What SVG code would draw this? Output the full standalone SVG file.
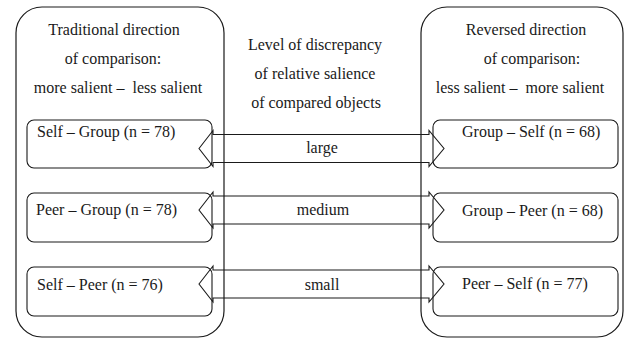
<svg xmlns="http://www.w3.org/2000/svg" width="627" height="340" viewBox="0 0 627 340" font-family="'Liberation Serif', 'Times New Roman', Tinos, 'DejaVu Serif', serif">
  <defs>
    <style>
      .frame { fill: none; stroke: #1a1a1a; stroke-width: 1.2; }
      .node { fill: none; stroke: #1a1a1a; stroke-width: 1.1; }
      .link { fill: none; stroke: #1a1a1a; stroke-width: 1.1; stroke-linejoin: miter; }
      text { font-family: 'Liberation Serif', 'Times New Roman', Tinos, 'DejaVu Serif', serif; font-size: 16px; fill: #1a1a1a; }
      .mid { text-anchor: middle; }
    </style>
  </defs>
  <rect width="627" height="340" fill="#ffffff"/>

  <!-- Left column: traditional direction -->
  <g id="traditional">
    <rect class="frame" x="16" y="7" width="208" height="330" rx="26" ry="26"/>
    <text class="mid" x="114" y="35">Traditional direction</text>
    <text class="mid" x="113" y="64">of comparison:</text>
    <text class="mid" x="118" y="93" xml:space="preserve">more salient –  less salient</text>
  </g>

  <!-- Right column: reversed direction -->
  <g id="reversed">
    <rect class="frame" x="421" y="7" width="202" height="330" rx="26" ry="26"/>
    <text class="mid" x="526" y="35">Reversed direction</text>
    <text class="mid" x="532" y="64">of comparison:</text>
    <text class="mid" x="520" y="93" xml:space="preserve">less salient –  more salient</text>
  </g>

  <!-- Middle heading -->
  <g id="discrepancy">
    <text class="mid" x="315" y="50">Level of discrepancy</text>
    <text class="mid" x="315" y="79">of relative salience</text>
    <text class="mid" x="316" y="108">of compared objects</text>
  </g>

  <!-- Left pairs -->
  <g id="self-group">
    <rect class="node" x="27" y="120" width="185" height="48" rx="7" ry="7"/>
    <text x="37" y="137">Self – Group (n = 78)</text>
  </g>
  <g id="peer-group">
    <rect class="node" x="27" y="193" width="185" height="49" rx="7" ry="7"/>
    <text x="36" y="215">Peer – Group (n = 78)</text>
  </g>
  <g id="self-peer">
    <rect class="node" x="27" y="267" width="185" height="49" rx="7" ry="7"/>
    <text x="37" y="290">Self – Peer (n = 76)</text>
  </g>

  <!-- Right pairs -->
  <g id="group-self">
    <rect class="node" x="433" y="120" width="185" height="48" rx="7" ry="7"/>
    <text x="462" y="137">Group – Self (n = 68)</text>
  </g>
  <g id="group-peer">
    <rect class="node" x="433" y="193" width="185" height="49" rx="7" ry="7"/>
    <text x="462" y="216">Group – Peer (n = 68)</text>
  </g>
  <g id="peer-self">
    <rect class="node" x="433" y="267" width="185" height="49" rx="7" ry="7"/>
    <text x="462" y="289">Peer – Self (n = 77)</text>
  </g>

  <!-- Double-headed block arrows linking each pair -->
  <g id="connectors">
    <polygon class="link" points="199,148.5 213,130.5 213,134.5 429,134.5 429,130.5 444,148.5 429,166.5 429,162.5 213,162.5 213,166.5"/>
    <text class="mid" x="322" y="153">large</text>

    <polygon class="link" points="199,210 213,192 213,196 429,196 429,192 444,210 429,228 429,224 213,224 213,228"/>
    <text class="mid" x="323" y="215">medium</text>

    <polygon class="link" points="199,284 213,266 213,270 429,270 429,266 444,284 429,302 429,298 213,298 213,302"/>
    <text class="mid" x="322" y="290">small</text>
  </g>
</svg>
